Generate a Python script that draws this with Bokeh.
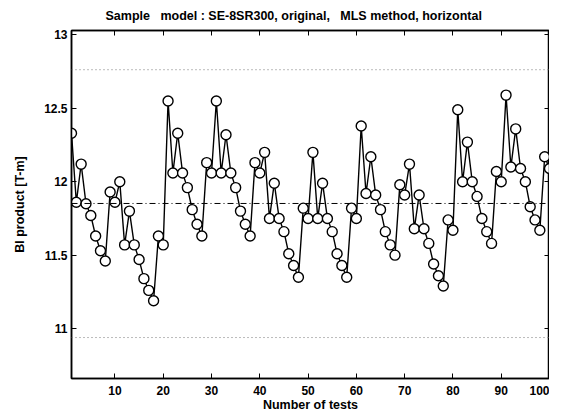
from bokeh.plotting import figure
from bokeh.models import (Range1d, FixedTicker, LinearAxis, Span, CustomJSTickFormatter)
from bokeh.embed import file_html
from bokeh.resources import INLINE

# ---- data ----
tests = list(range(1, 101))
bl_product = [
    12.33, 11.86, 12.12, 11.85, 11.77, 11.63, 11.53, 11.46, 11.93, 11.86,
    12.00, 11.57, 11.80, 11.57, 11.47, 11.34, 11.26, 11.19, 11.63, 11.57,
    12.55, 12.06, 12.33, 12.06, 11.96, 11.81, 11.71, 11.63, 12.13, 12.06,
    12.55, 12.06, 12.32, 12.06, 11.96, 11.80, 11.71, 11.63, 12.13, 12.06,
    12.20, 11.75, 11.99, 11.75, 11.66, 11.51, 11.43, 11.35, 11.82, 11.75,
    12.20, 11.75, 11.99, 11.75, 11.66, 11.51, 11.43, 11.35, 11.82, 11.75,
    12.38, 11.92, 12.17, 11.91, 11.81, 11.66, 11.57, 11.50, 11.98, 11.91,
    12.12, 11.68, 11.91, 11.68, 11.58, 11.44, 11.36, 11.29, 11.74, 11.67,
    12.49, 12.00, 12.27, 12.00, 11.90, 11.75, 11.66, 11.58, 12.07, 12.00,
    12.59, 12.10, 12.36, 12.09, 12.00, 11.83, 11.74, 11.67, 12.17, 12.09,
]
mean_value = 11.852
upper_limit = 12.763
lower_limit = 10.939
x_ticks = [10, 20, 30, 40, 50, 60, 70, 80, 90, 100]
y_ticks = [11, 11.5, 12, 12.5, 13]
title_text = "Sample\u00a0\u00a0\u00a0model : SE-8SR300, original,\u00a0\u00a0\u00a0MLS method, horizontal"

FONT = "Liberation Sans"

p = figure(width=549, height=414, output_backend="svg", toolbar_location=None,
           x_range=Range1d(1, 100), y_range=Range1d(10.66, 13.03),
           min_border_left=71, min_border_right=0, min_border_top=30, min_border_bottom=34,
           x_axis_label="Number of tests", y_axis_label="Bl product [T-m]")

p.title.text = title_text
p.title.align = "left"
p.title.offset = 34
p.title.text_font = FONT
p.title.text_font_size = "12.5px"
p.title.text_font_style = "bold"
p.title.text_color = "black"
p.title.standoff = 11
p.title.vertical_align = "top"

p.grid.visible = False
p.outline_line_color = "black"
p.outline_line_width = 1.5
p.background_fill_color = "white"
p.border_fill_color = "white"

fmt = CustomJSTickFormatter(code="return tick.toString();")

for ax in p.xaxis:
    ax.ticker = FixedTicker(ticks=x_ticks)
for ax in p.yaxis:
    ax.ticker = FixedTicker(ticks=y_ticks)

for ax in p.xaxis + p.yaxis:
    ax.formatter = fmt
    ax.major_tick_in = 5
    ax.major_tick_out = 0
    ax.minor_tick_line_color = None
    ax.axis_line_color = "black"
    ax.axis_line_width = 1.5
    ax.major_tick_line_color = "black"
    ax.major_label_text_font = FONT
    ax.major_label_text_font_size = "12px"
    ax.major_label_text_font_style = "bold"
    ax.major_label_text_color = "black"
    ax.axis_label_text_font = FONT
    ax.axis_label_text_font_size = "12.5px"
    ax.axis_label_text_font_style = "bold"
    ax.axis_label_text_color = "black"

p.xaxis.major_label_standoff = 7
p.xaxis.axis_label_standoff = 0
p.yaxis.major_label_standoff = 4
p.yaxis.axis_label_standoff = 14

# mirrored ticks on top and right
top_ax = LinearAxis(ticker=FixedTicker(ticks=x_ticks), major_tick_in=5, major_tick_out=0,
                    minor_tick_line_color=None, major_label_text_font_size="0px",
                    major_label_standoff=0, axis_line_width=1.5)
right_ax = LinearAxis(ticker=FixedTicker(ticks=y_ticks), major_tick_in=5, major_tick_out=0,
                      minor_tick_line_color=None, major_label_text_font_size="0px",
                      major_label_standoff=0, axis_line_width=1.5)
top_ax.formatter = CustomJSTickFormatter(code="return '';")
right_ax.formatter = CustomJSTickFormatter(code="return '';")
p.add_layout(top_ax, "above")
p.add_layout(right_ax, "right")

# reference lines
p.add_layout(Span(location=mean_value, dimension="width", line_color="black",
                  line_width=1, line_dash="6 3 1 3"))
p.add_layout(Span(location=upper_limit, dimension="width", line_color="#777777",
                  line_width=1, line_dash="1 3"))
p.add_layout(Span(location=lower_limit, dimension="width", line_color="#777777",
                  line_width=1, line_dash="1 3"))

p.line(tests, bl_product, line_color="black", line_width=1.4)
p.scatter(tests, bl_product, marker="circle", size=10, line_color="black",
          line_width=1.4, fill_color="white")

open("out.html", "w").write(file_html(p, INLINE))
